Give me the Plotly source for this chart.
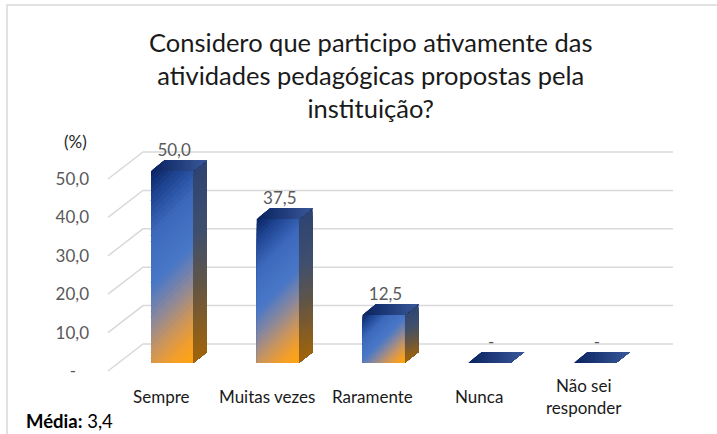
import plotly.graph_objects as go

# dados do gráfico
categorias = ["Sempre", "Muitas vezes", "Raramente", "Nunca", "Não sei<br>responder"]
percentuais = [50.0, 37.5, 12.5, 0.0, 0.0]
rotulos = ["50,0", "37,5", "12,5", "-", "-"]
ticks_y = [0, 10, 20, 30, 40, 50]
ticks_y_txt = ["-\u00a0\u00a0\u00a0", "10,0", "20,0", "30,0", "40,0", "50,0"]
titulo = "Considero que participo ativamente das<br>atividades pedagógicas propostas pela<br>instituição?"
media_txt = "<b>Média:</b> 3,4"

FONTE = "Lato"
W, H = 717, 434
L, R, T, B = 90, 700, 125, 380      # area do grafico (px)
KX, KY = 105.7, 3.84                # px por categoria / px por ponto percentual
X0, Y0 = 172, 363                   # pixel da categoria 0 / do valor 0 na face frontal

xr = [(L - X0) / KX, (R - X0) / KX]
yr = [(Y0 - B) / KY, (Y0 - T) / KY]

# geometria "3D"
HW = 21 / KX            # meia largura da barra
DX, DY = 14 / KX, 11 / KY   # profundidade da barra
WALL_BX, WALL_FX = (143 - X0) / KX, (108 - X0) / KX
WALL_BY, WALL_FY = 19 / KY, -8 / KY
WALL_END = (673 - X0) / KX


def px2paper(px, py):
    return (px - L) / (R - L), (B - py) / (B - T)


def hex2rgb(h):
    h = h.lstrip("#")
    return [int(h[i:i + 2], 16) for i in (0, 2, 4)]


def grad(stops, t):
    t = min(max(t, 0), 1)
    for (t0, c0), (t1, c1) in zip(stops, stops[1:]):
        if t <= t1:
            f = 0 if t1 == t0 else (t - t0) / (t1 - t0)
            a, b = hex2rgb(c0), hex2rgb(c1)
            return "rgb(%d,%d,%d)" % tuple(round(a[k] + (b[k] - a[k]) * f) for k in range(3))
    return stops[-1][1]


def clip(poly, fn, c):
    # mantem a parte do poligono onde fn(x, y) >= c
    out = []
    n = len(poly)
    for k in range(n):
        p, q = poly[k], poly[(k + 1) % n]
        sp, sq = fn(*p) - c, fn(*q) - c
        if sp >= 0:
            out.append(p)
        if (sp >= 0) != (sq >= 0):
            f = sp / (sp - sq)
            out.append((p[0] + (q[0] - p[0]) * f, p[1] + (q[1] - p[1]) * f))
    return out


def faixas(poly, stops, dirx, diry, n=40):
    # preenche a face com faixas de cor para imitar o degrade diagonal
    fn = lambda x, y: dirx * x * KX - diry * y * KY
    vals = [fn(*p) for p in poly]
    smin, smax = min(vals), max(vals)
    res = []
    for k in range(n):
        c = smin + (smax - smin) * k / n
        pk = clip(poly, fn, c) if k else poly
        if len(pk) < 3:
            continue
        path = "M " + " L ".join("%.5f,%.5f" % p for p in pk) + " Z"
        res.append(dict(type="path", path=path, xref="x", yref="y", layer="above",
                        fillcolor=grad(stops, (k + 0.5) / n), line=dict(width=0)))
    return res


frente = [(0.0, "#0a2360"), (0.12, "#1f4593"), (0.28, "#3d69bc"), (0.5, "#4a78c8"),
          (0.65, "#8d889a"), (0.78, "#c9955e"), (0.9, "#f39e2a"), (1.0, "#ffa510")]
lado = [(0.0, "#2d4372"), (0.35, "#3f4f6e"), (0.6, "#5f5548"), (0.85, "#8a5e1e"), (1.0, "#a2650a")]
topo = [(0.0, "#0a2360"), (1.0, "#3a5898")]

shapes = []
for i, v in enumerate(percentuais):
    x1, x2 = i - HW, i + HW
    if v > 0:
        shapes += faixas([(x2, 0), (x2 + DX, DY), (x2 + DX, v + DY), (x2, v)], lado, 0.4, 1)
    shapes += faixas([(x1, v), (x2, v), (x2 + DX, v + DY), (x1 + DX, v + DY)], topo, 1, 0)
    if v > 0:
        shapes += faixas([(x1, 0), (x2, 0), (x2, v), (x1, v)], frente, 1, 1)

# moldura do grafico
bx0, by0 = px2paper(7, 5)
bx1, by1 = px2paper(W + 5, H + 5)
shapes.append(dict(type="path", xref="paper", yref="paper", layer="below",
                   path="M %f,%f L %f,%f L %f,%f" % (bx0, by1, bx0, by0, bx1, by0),
                   line=dict(color="#d9d9d9", width=1.5)))

# linhas de grade (parede do fundo e lateral)
gx, gy = [], []
for t in ticks_y:
    gx += [WALL_FX, WALL_BX, WALL_END, None]
    gy += [t + WALL_FY, t + WALL_BY, t + WALL_BY, None]

fig = go.Figure()
fig.add_trace(go.Scatter(x=gx, y=gy, mode="lines", line=dict(color="#d9d9d9", width=1.5),
                         hoverinfo="skip", showlegend=False, cliponaxis=False))
fig.add_trace(go.Scatter(x=[i + 0.02 for i in range(len(percentuais))],
                         y=[v + DY + 8 / KY for v in percentuais],
                         text=rotulos, mode="text", textposition="middle center",
                         textfont=dict(family=FONTE, size=17, color="#595959"),
                         hoverinfo="skip", showlegend=False, cliponaxis=False))

anns = []
cy = px2paper(0, 396)[1]
for i, c in enumerate(categorias):
    anns.append(dict(x=i - 0.1, y=cy, xref="x", yref="paper", text=c, showarrow=False,
                     xanchor="center", yanchor="middle",
                     font=dict(family=FONTE, size=17, color="#1a1a1a")))
tx, ty = px2paper(370, 75)
anns.append(dict(x=tx, y=ty, xref="paper", yref="paper", text=titulo, showarrow=False,
                 xanchor="center", yanchor="middle",
                 font=dict(family=FONTE, size=25.5, color="#1a1a1a")))
px_, py_ = px2paper(75, 141)
anns.append(dict(x=px_, y=py_, xref="paper", yref="paper", text="(%)", showarrow=False,
                 xanchor="center", yanchor="middle",
                 font=dict(family=FONTE, size=17, color="#262626")))
mx, my = px2paper(24, 421)
anns.append(dict(x=mx, y=my, xref="paper", yref="paper", text=media_txt, showarrow=False,
                 xanchor="left", yanchor="middle",
                 font=dict(family=FONTE, size=18.5, color="#000000")))

fig.update_layout(
    width=W, height=H,
    margin=dict(l=L, r=W - R, t=T, b=H - B, pad=0),
    paper_bgcolor="white", plot_bgcolor="white",
    xaxis=dict(range=xr, visible=False, fixedrange=True),
    yaxis=dict(range=yr, showgrid=False, zeroline=False, showline=False, ticks="",
               tickvals=[t + WALL_FY for t in ticks_y], ticktext=ticks_y_txt,
               tickfont=dict(family=FONTE, size=17, color="#595959"), fixedrange=True),
    shapes=shapes, annotations=anns, showlegend=False,
)

fig.write_html("out.html", config={"displayModeBar": False},
               post_script="document.body.style.margin='0px';")
